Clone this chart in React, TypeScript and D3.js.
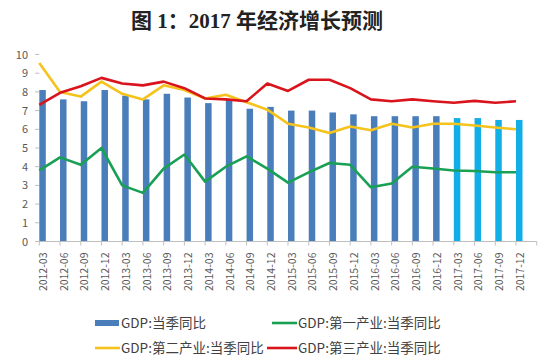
import * as d3 from "d3";

const categories = [
  "2012-03", "2012-06", "2012-09", "2012-12",
  "2013-03", "2013-06", "2013-09", "2013-12",
  "2014-03", "2014-06", "2014-09", "2014-12",
  "2015-03", "2015-06", "2015-09", "2015-12",
  "2016-03", "2016-06", "2016-09", "2016-12",
  "2017-03", "2017-06", "2017-09", "2017-12",
];

// GDP 当季同比 (actual, then forecast)
const gdpActual = [
  8.1, 7.6, 7.5, 8.1, 7.8, 7.6, 7.9, 7.7, 7.4, 7.6, 7.1, 7.2,
  7.0, 7.0, 6.9, 6.8, 6.7, 6.7, 6.7, 6.7,
];
const gdpForecast = [6.6, 6.6, 6.5, 6.5];

const primary = [
  3.8, 4.5, 4.1, 5.0, 3.0, 2.6, 3.9, 4.65, 3.2, 4.0, 4.55, 3.9,
  3.15, 3.7, 4.2, 4.1, 2.9, 3.1, 4.0, 3.9, 3.8, 3.77, 3.7, 3.7,
];
const secondary = [
  9.55, 8.0, 7.75, 8.55, 7.9, 7.6, 8.35, 8.1, 7.65, 7.85, 7.45, 7.05,
  6.3, 6.1, 5.8, 6.15, 5.95, 6.3, 6.1, 6.3, 6.3, 6.2, 6.1, 6.0,
];
const tertiary = [
  7.3, 7.95, 8.3, 8.75, 8.45, 8.35, 8.55, 8.2, 7.65, 7.6, 7.5, 8.45,
  8.05, 8.65, 8.65, 8.2, 7.6, 7.5, 7.6, 7.5, 7.42, 7.52, 7.42, 7.5,
];

const yTicks = [0, 1, 2, 3, 4, 5, 6, 7, 8, 9, 10];

const legendItems = [
  { label: "GDP:当季同比", color: "#4a7ebb", type: "rect", col: 0, row: 0 },
  { label: "GDP:第一产业:当季同比", color: "#19a055", type: "line", col: 1, row: 0 },
  { label: "GDP:第二产业:当季同比", color: "#f5c31c", type: "line", col: 0, row: 1 },
  { label: "GDP:第三产业:当季同比", color: "#d9141c", type: "line", col: 1, row: 1 },
];

const W = 550;
const H = 361;
const font = "'Noto Sans CJK SC', 'Liberation Sans', sans-serif";

export default function App() {
  const x = d3.scalePoint<string>().domain(categories).range([39.3, 516]);
  const step = x.step();
  const y = d3.scaleLinear().domain([0, 10]).range([241.5, 54.5]);
  const barW = 6.5;

  const line = d3
    .line<number>()
    .x((_, i) => x(categories[i])!)
    .y((d) => y(d));

  const series = [
    { values: primary, color: "#19a055" },
    { values: secondary, color: "#f5c31c" },
    { values: tertiary, color: "#d9141c" },
  ];

  const axisEnd = x(categories[categories.length - 1])! + step;

  return (
    <svg
      width={W}
      height={H}
      viewBox={`0 0 ${W} ${H}`}
      style={{ position: "absolute", left: 0, top: 0, background: "#fff" }}
    >
      <rect width={W} height={H} fill="#fff" />
      <text
        x={257}
        y={28}
        textAnchor="middle"
        fontFamily="'Liberation Serif', 'Noto Sans CJK SC', serif"
        fontWeight="bold"
        fontSize={21}
        fill="#222"
      >
        图 1：2017 年经济增长预测
      </text>

      {/* y axis labels and ticks */}
      {yTicks.map((t) => (
        <g key={t}>
          <line x1={35} x2={39.3} y1={y(t)} y2={y(t)} stroke="#bfbfbf" />
          <text
            x={28}
            y={y(t) + 4}
            textAnchor="end"
            fontFamily={font}
            fontSize={11}
            fill="#595959"
          >
            {t}
          </text>
        </g>
      ))}

      {/* bars */}
      {gdpActual.map((v, i) => (
        <rect
          key={"a" + i}
          x={x(categories[i])!}
          y={y(v)}
          width={barW}
          height={y(0) - y(v)}
          fill="#4a7ebb"
        />
      ))}
      {gdpForecast.map((v, i) => {
        const c = categories[gdpActual.length + i];
        return (
          <rect
            key={"f" + i}
            x={x(c)!}
            y={y(v)}
            width={barW}
            height={y(0) - y(v)}
            fill="#12aee8"
          />
        );
      })}

      {/* x axis */}
      <line x1={39.3} x2={axisEnd} y1={y(0)} y2={y(0)} stroke="#bfbfbf" />
      {[...categories, ""].map((c, i) => {
        const px = 39.3 + i * step;
        return (
          <line key={"t" + i} x1={px} x2={px} y1={y(0)} y2={y(0) + 4} stroke="#bfbfbf" />
        );
      })}
      {categories.map((c) => {
        const px = x(c)! + 4;
        return (
          <text
            key={"l" + c}
            transform={`translate(${px},${252.5}) rotate(-90)`}
            textAnchor="end"
            dy="0.35em"
            fontFamily={font}
            fontSize={10.5}
            fill="#595959"
          >
            {c}
          </text>
        );
      })}

      {/* lines */}
      {series.map((s, i) => (
        <path
          key={"s" + i}
          d={line(s.values)!}
          fill="none"
          stroke={s.color}
          strokeWidth={2.6}
          strokeLinejoin="round"
        />
      ))}

      {/* legend */}
      {legendItems.map((it) => {
        const lx = it.col === 0 ? 95 : 272;
        const ly = it.row === 0 ? 323 : 348;
        const start = it.col === 1 && it.row === 1 ? 267 : lx;
        return (
          <g key={it.label}>
            {it.type === "rect" ? (
              <rect x={lx} y={ly - 3} width={24} height={6} fill={it.color} />
            ) : (
              <line x1={start} x2={lx + 25} y1={ly} y2={ly} stroke={it.color} strokeWidth={2.6} />
            )}
            <text
              x={lx + 26}
              y={ly + 4.5}
              fontFamily={font}
              fontSize={13.5}
              fill="#404040"
            >
              {it.label}
            </text>
          </g>
        );
      })}
    </svg>
  );
}
